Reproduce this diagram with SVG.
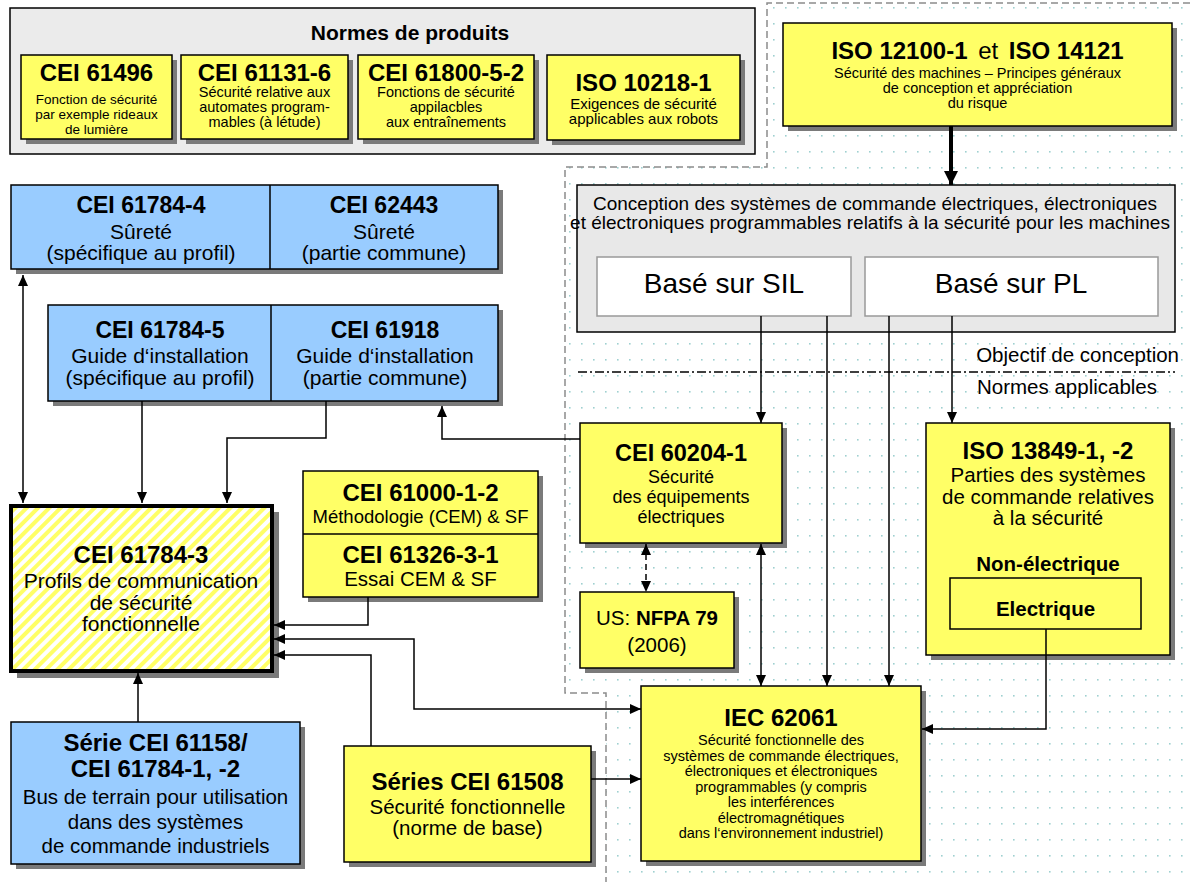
<svg xmlns="http://www.w3.org/2000/svg" width="1190" height="882" viewBox="0 0 1190 882">
<style>
.t{font-family:"Liberation Sans",Arial,sans-serif;text-anchor:middle;fill:#000}
.bd{font-weight:bold}
.y{fill:#ffff66;stroke:#000;stroke-width:1.5}
.b{fill:#99ccff;stroke:#000;stroke-width:1.5}
.w{fill:#fff;stroke:#999;stroke-width:1.5}
.g{fill:#e8e8e8;stroke:#000;stroke-width:1.5}
.sh{fill:#7a7a7a}
.c{fill:none;stroke:#000;stroke-width:1.5}
</style>
<defs>
<pattern id="dots" width="12" height="16" patternUnits="userSpaceOnUse"><rect x="5" y="7" width="1.6" height="1.6" fill="#9fd0d0"/></pattern>
<pattern id="stripes" width="8" height="8" patternUnits="userSpaceOnUse" patternTransform="rotate(45)"><rect width="8" height="8" fill="#fff"/><rect width="4" height="8" fill="#ffff66"/></pattern>
<marker id="a" viewBox="0 0 11 10" refX="11" refY="5" markerWidth="11" markerHeight="10" markerUnits="userSpaceOnUse" orient="auto-start-reverse"><path d="M0,0 L11,5 L0,10 z" fill="#000"/></marker>
<marker id="A" viewBox="0 0 14 14" refX="14" refY="7" markerWidth="14" markerHeight="14" markerUnits="userSpaceOnUse" orient="auto"><path d="M0,0 L14,7 L0,14 z" fill="#000"/></marker>
</defs>
<rect width="1190" height="882" fill="#fff"/>

<!-- dotted region -->
<g id="region">
<polygon points="767,3 1190,3 1190,882 606,882 606,693 565,693 565,167 767,167" fill="url(#dots)"/>
<polyline points="1190,3 767,3 767,167 565,167 565,693 606,693 606,882" fill="none" stroke="#8c8c8c" stroke-width="1.5" stroke-dasharray="7,4"/>
</g>

<!-- product standards -->
<g id="normes-produits">
<rect x="10" y="8" width="745" height="146" fill="#ebebeb" stroke="#000" stroke-width="1.5"/>
<text class="t bd" x="410" y="39.5" font-size="21">Normes de produits</text>
</g>
<g id="cei61496">
<rect class="sh" x="26" y="60" width="151" height="84"/>
<rect class="y" x="21" y="55" width="151" height="84"/>
<text class="t bd" x="96.5" y="81" font-size="24">CEI 61496</text>
<text class="t" font-size="13.5"><tspan x="96.5" y="104">Fonction de sécurité</tspan><tspan x="96.5" y="119">par exemple rideaux</tspan><tspan x="96.5" y="134">de lumière</tspan></text>
</g>
<g id="cei61131">
<rect class="sh" x="186" y="60" width="167" height="84"/>
<rect class="y" x="181" y="55" width="167" height="84"/>
<text class="t bd" x="264.5" y="81" font-size="24">CEI 61131-6</text>
<text class="t" font-size="14.5"><tspan x="264.5" y="97">Sécurité relative aux</tspan><tspan x="264.5" y="112">automates program-</tspan><tspan x="264.5" y="127">mables (à létude)</tspan></text>
</g>
<g id="cei61800">
<rect class="sh" x="363" y="60" width="176" height="84"/>
<rect class="y" x="358" y="55" width="176" height="84"/>
<text class="t bd" x="446" y="81" font-size="24">CEI 61800-5-2</text>
<text class="t" font-size="14.5"><tspan x="446" y="97">Fonctions de sécurité</tspan><tspan x="446" y="112">appilacbles</tspan><tspan x="446" y="127">aux entraînements</tspan></text>
</g>
<g id="iso10218">
<rect class="sh" x="552" y="60" width="193" height="85"/>
<rect class="y" x="547" y="55" width="193" height="85"/>
<text class="t bd" x="643.5" y="90.5" font-size="24">ISO 10218-1</text>
<text class="t" font-size="15"><tspan x="643.5" y="109">Exigences de sécurité</tspan><tspan x="643.5" y="124">applicables aux robots</tspan></text>
</g>

<g id="iso12100">
<rect class="sh" x="788" y="28" width="389" height="103"/>
<rect class="y" x="783" y="23" width="389" height="103"/>
<text class="t" x="977.5" y="58.5" font-size="24"><tspan class="bd">ISO 12100-1</tspan> <tspan dx="4">et</tspan> <tspan class="bd" dx="4">ISO 14121</tspan></text>
<text class="t" font-size="14.5"><tspan x="977.5" y="78">Sécurité des machines – Principes généraux</tspan><tspan x="977.5" y="93">de conception et appréciation</tspan><tspan x="977.5" y="108">du risque</tspan></text>
</g>

<g id="conception">
<rect class="g" x="577" y="185" width="598" height="147"/>
<text class="t" font-size="19"><tspan x="875" y="210">Conception des systèmes de commande électriques, électroniques</tspan><tspan x="870" y="229">et électroniques programmables relatifs à la sécurité pour les machines</tspan></text>
</g>
<g id="sil">
<rect class="w" x="597" y="257" width="254" height="59"/>
<text class="t" x="724" y="293" font-size="28">Basé sur SIL</text>
</g>
<g id="pl">
<rect class="w" x="865" y="257" width="293" height="59"/>
<text class="t" x="1011" y="293" font-size="28">Basé sur PL</text>
</g>
<g id="separation">
<text class="t" x="1179" y="362" font-size="20.5" text-anchor="end" style="text-anchor:end">Objectif de conception</text>
<line x1="578" y1="372" x2="1175" y2="372" stroke="#000" stroke-width="1.3" stroke-dasharray="9,3,2,3"/>
<text class="t" x="1157" y="394" font-size="20.5" style="text-anchor:end">Normes applicables</text>
</g>

<!-- blue boxes -->
<g id="cei61784-4-62443">
<rect class="sh" x="16" y="190" width="487" height="84"/>
<rect class="b" x="11" y="185" width="487" height="84"/>
<line x1="270" y1="185" x2="270" y2="269" stroke="#000" stroke-width="1.5"/>
<text class="t bd" x="141" y="213" font-size="23">CEI 61784-4</text>
<text class="t" font-size="21"><tspan x="141" y="238.5">Sûreté</tspan><tspan x="141" y="259.5">(spécifique au profil)</tspan></text>
<text class="t bd" x="384" y="213" font-size="23">CEI 62443</text>
<text class="t" font-size="21"><tspan x="384" y="238.5">Sûreté</tspan><tspan x="384" y="259.5">(partie commune)</tspan></text>
</g>
<g id="cei61784-5-61918">
<rect class="sh" x="53" y="310" width="450" height="96"/>
<rect class="b" x="48" y="305" width="450" height="96"/>
<line x1="271" y1="305" x2="271" y2="401" stroke="#000" stroke-width="1.5"/>
<text class="t bd" x="160" y="338" font-size="23">CEI 61784-5</text>
<text class="t" font-size="21"><tspan x="160" y="362.5">Guide d‘installation</tspan><tspan x="160" y="384.5">(spécifique au profil)</tspan></text>
<text class="t bd" x="385" y="338" font-size="23">CEI 61918</text>
<text class="t" font-size="21"><tspan x="385" y="362.5">Guide d‘installation</tspan><tspan x="385" y="384.5">(partie commune)</tspan></text>
</g>

<g id="cei61784-3">
<rect class="sh" x="17" y="512" width="262" height="166"/>
<rect x="11" y="506" width="261" height="165" fill="url(#stripes)" stroke="#000" stroke-width="4"/>
<text class="t bd" x="141" y="562.5" font-size="24">CEI 61784-3</text>
<text class="t" font-size="21"><tspan x="141" y="587.5">Profils de communication</tspan><tspan x="141" y="609.5">de sécurité</tspan><tspan x="141" y="630.5">fonctionnelle</tspan></text>
</g>

<g id="cei61000-61326">
<rect class="sh" x="308" y="476" width="235" height="126"/>
<rect class="y" x="303" y="471" width="235" height="126"/>
<line x1="303" y1="534" x2="538" y2="534" stroke="#000" stroke-width="1.5"/>
<text class="t bd" x="420.5" y="500.5" font-size="24">CEI 61000-1-2</text>
<text class="t" x="420.5" y="522.5" font-size="18.5">Méthodologie (CEM) &amp; SF</text>
<text class="t bd" x="420.5" y="562.5" font-size="24">CEI 61326-3-1</text>
<text class="t" x="420.5" y="585.5" font-size="20.5">Essai CEM &amp; SF</text>
</g>

<g id="cei60204">
<rect class="sh" x="585" y="428" width="202" height="120"/>
<rect class="y" x="580" y="423" width="202" height="120"/>
<text class="t bd" x="681" y="460.5" font-size="23.5">CEI 60204-1</text>
<text class="t" font-size="18"><tspan x="681" y="482.5">Sécurité</tspan><tspan x="681" y="502.5">des équipements</tspan><tspan x="681" y="522.5">électriques</tspan></text>
</g>
<g id="nfpa79">
<rect class="sh" x="585" y="597" width="154" height="76"/>
<rect class="y" x="580" y="592" width="154" height="76"/>
<text class="t" x="657" y="624.5" font-size="20.5">US: <tspan class="bd">NFPA 79</tspan></text>
<text class="t" x="657" y="651.5" font-size="20.5">(2006)</text>
</g>
<g id="iso13849">
<rect class="sh" x="931" y="428" width="244" height="232"/>
<rect class="y" x="926" y="423" width="244" height="232"/>
<text class="t bd" x="1048" y="458.5" font-size="24">ISO 13849-1, -2</text>
<text class="t" font-size="20.5"><tspan x="1048" y="481.5">Parties des systèmes</tspan><tspan x="1048" y="503.5">de commande relatives</tspan><tspan x="1048" y="524.5">à la sécurité</tspan></text>
<text class="t bd" x="1048" y="570.5" font-size="20.5">Non-électrique</text>
<rect x="950" y="578" width="191" height="51" fill="#ffff66" stroke="#000" stroke-width="1.5"/>
<text class="t bd" x="1045.5" y="615.5" font-size="20.5">Electrique</text>
</g>

<g id="iec62061">
<rect class="sh" x="646" y="691" width="280" height="175"/>
<rect class="y" x="641" y="686" width="280" height="175"/>
<text class="t bd" x="781" y="725.5" font-size="24">IEC 62061</text>
<text class="t" font-size="14.5"><tspan x="781" y="745">Sécurité fonctionnelle des</tspan><tspan x="781" y="760.5">systèmes de commande électriques,</tspan><tspan x="781" y="776">électroniques et électroniques</tspan><tspan x="781" y="791.5">programmables (y compris</tspan><tspan x="781" y="807">les interférences</tspan><tspan x="781" y="822.5">électromagnétiques</tspan><tspan x="781" y="838">dans l‘environnement industriel)</tspan></text>
</g>

<g id="cei61158">
<rect class="sh" x="16" y="727" width="289" height="142"/>
<rect class="b" x="11" y="722" width="289" height="142"/>
<text class="t bd" font-size="24"><tspan x="155.5" y="750.5">Série CEI 61158/</tspan><tspan x="155.5" y="776.5">CEI 61784-1, -2</tspan></text>
<text class="t" font-size="20.5"><tspan x="155.5" y="803.5">Bus de terrain pour utilisation</tspan><tspan x="155.5" y="828.5">dans des systèmes</tspan><tspan x="155.5" y="852.5">de commande industriels</tspan></text>
</g>
<g id="cei61508">
<rect class="sh" x="349" y="751" width="247" height="116"/>
<rect class="y" x="344" y="746" width="247" height="116"/>
<text class="t bd" x="467.5" y="789.5" font-size="24">Séries CEI 61508</text>
<text class="t" font-size="20.5"><tspan x="467.5" y="813.5">Sécurité fonctionnelle</tspan><tspan x="467.5" y="834.5">(norme de base)</tspan></text>
</g>

<!-- connectors -->
<g id="connectors">
<path d="M951,126 V185" fill="none" stroke="#000" stroke-width="4" marker-end="url(#A)"/>
<path class="c" d="M761,316 V423" marker-end="url(#a)"/>
<path class="c" d="M827,316 V686" marker-end="url(#a)"/>
<path class="c" d="M889,316 V686" marker-end="url(#a)"/>
<path class="c" d="M952,316 V423" marker-end="url(#a)"/>
<path class="c" d="M761,544 V686" marker-start="url(#a)" marker-end="url(#a)"/>
<path class="c" d="M646,544 V592" stroke-dasharray="6,4" marker-start="url(#a)" marker-end="url(#a)"/>
<path class="c" d="M580,439 H442 V406" marker-end="url(#a)"/>
<path class="c" d="M326,401 V438 H227 V503" marker-end="url(#a)"/>
<path class="c" d="M142,401 V503" marker-end="url(#a)"/>
<path class="c" d="M23,275 V503" marker-start="url(#a)" marker-end="url(#a)"/>
<path class="c" d="M368,597 V625 H274" marker-end="url(#a)"/>
<path class="c" d="M274,639 H414 V709 H641" marker-start="url(#a)" marker-end="url(#a)"/>
<path class="c" d="M371,746 V655 H274" marker-end="url(#a)"/>
<path class="c" d="M138,722 V673" marker-end="url(#a)"/>
<path class="c" d="M591,779 H641" marker-end="url(#a)"/>
<path class="c" d="M1046,629 V729 H922" marker-end="url(#a)"/>
</g>
</svg>
